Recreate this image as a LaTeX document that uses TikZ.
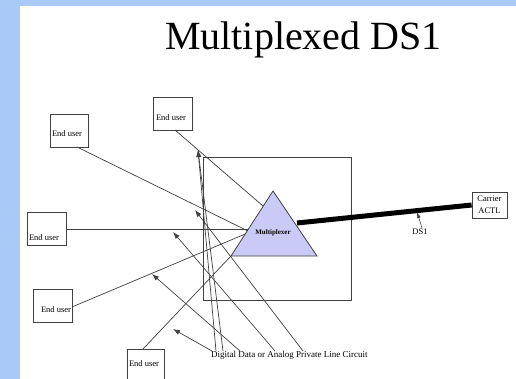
\documentclass[tikz,border=0pt]{standalone}
\usepackage{fontspec}
\setmainfont{Liberation Serif}
\usetikzlibrary{arrows.meta}
\definecolor{bgblue}{HTML}{A9C9F7}
\definecolor{lav}{HTML}{CACAF6}
\definecolor{ln}{HTML}{404040}
\begin{document}
\begin{tikzpicture}[x=1pt,y=-1pt,
  small/.style={font=\fontsize{8.5}{9}\selectfont,inner sep=0pt},
  frame/.style={draw=ln,line width=0.8pt},
  wire/.style={draw=ln,line width=0.7pt},
  arr/.style={wire,-{Latex[length=7pt,width=5pt]}}]
\fill[bgblue] (0,0) rectangle (516,379);
\fill[white] (20,6) rectangle (516,379);
\useasboundingbox (0,0) rectangle (516,379);
% title
\node[font=\fontsize{40}{44}\selectfont,anchor=base,inner sep=0pt] (title) at (303.5,50) {Multiplexed DS1};
% square
\draw[frame] (203,157) rectangle (351,300);
% end user boxes
\draw[frame] (50,114) rectangle (88,147);
\draw[frame] (153,97) rectangle (192,130);
\draw[frame] (27,212) rectangle (66,245);
\draw[frame] (33,289) rectangle (72,322);
\draw[frame] (127,349) rectangle (164,385);
\node[small] (t1) at (67,134) {End user};
\node[small] (t2) at (171,118) {End user};
\node[small] (t3) at (44,238) {End user};
\node[small] (t4) at (56,310) {End user};
\node[small] (t5) at (144,364) {End user};
% named connector ends
\coordinate (b1) at (77,147);
\coordinate (b2) at (175,130);
\coordinate (b3) at (66,229);
\coordinate (b4) at (72,307);
\coordinate (b5) at (143,349);
\coordinate (m1) at (248,231);
\coordinate (m2) at (263,206);
\coordinate (m3) at (249,229);
\coordinate (m4) at (250,232);
\coordinate (m5) at (231,256);
\draw[wire] (b1) -- (m1);
\draw[wire] (b2) -- (m2);
\draw[wire] (b3) -- (m3);
\draw[wire] (b4) -- (m4);
\draw[wire] (b5) -- (m5);
% label arrows
\node[font=\fontsize{9}{10}\selectfont,inner sep=0pt,anchor=west] (lbl) at (211,355) {Digital Data or Analog Private Line Circuit};
\coordinate (o1) at (212,351);
\coordinate (o2) at (216,351);
\coordinate (o3) at (223,351);
\coordinate (o4) at (240,351);
\coordinate (o5) at (275,351);
\coordinate (o6) at (303,351);
\coordinate (h1) at (173,329);
\coordinate (h2) at (198,150);
\coordinate (h4) at (152,274);
\coordinate (h5) at (173,232);
\coordinate (h6) at (195,210);
\draw[arr] (o1) -- (h1);
\draw[arr] (o2) -- (h2);
\draw[arr] (o3) -- (h2);
\draw[arr] (o4) -- (h4);
\draw[arr] (o5) -- (h5);
\draw[arr] (o6) -- (h6);
% multiplexer
\coordinate (ta) at (273,191);
\coordinate (tl) at (231,256);
\coordinate (tr) at (317,256);
\path[draw=ln,fill=lav,line width=0.8pt] (ta) -- (tl) -- (tr) -- cycle;
\node[font=\fontsize{7}{8}\selectfont\bfseries,inner sep=0pt] (muxt) at (273,233) {Multiplexer};
% carrier
\node[draw=ln,line width=0.8pt,minimum width=35pt,minimum height=26pt,inner sep=0pt,align=center,font=\fontsize{8.5}{12}\selectfont] (car) at (489.5,205) {Carrier\\ACTL};
\coordinate (mr) at (297,223);
\draw[line width=5pt] (mr) -- (car.west);
\node[small] (ds) at (420,232) {DS1};
\coordinate (dsp) at (417,212);
\draw[wire,line width=0.6pt,-{Latex[length=6pt,width=4pt]}] ([shift={(2,-1)}]ds.north) -- (dsp);
\end{tikzpicture}
\end{document}
